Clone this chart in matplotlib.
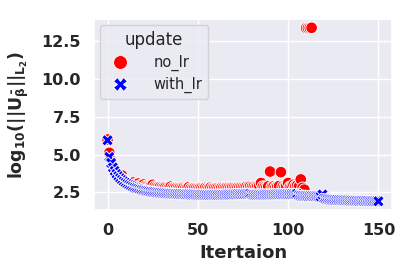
import numpy as np
import pandas as pd
import seaborn as sns
import matplotlib.pyplot as plt

# log10 of the norm per iteration
no_lr = [
    6.00, 5.12, 4.60, 4.25, 3.98, 3.78, 3.62, 3.50, 3.62, 3.35,
    3.25, 3.18, 3.12, 3.06, 3.15, 3.02, 2.98, 3.08, 2.96, 2.93,
    3.02, 2.92, 2.90, 2.88, 2.92, 3.00, 2.88, 2.85, 2.84, 2.86,
    2.83, 2.82, 2.84, 2.81, 2.80, 2.88, 2.80, 2.79, 2.80, 2.78,
    2.79, 2.78, 2.80, 2.77, 2.78, 2.85, 2.77, 2.76, 2.78, 2.77,
    2.76, 2.77, 2.78, 2.76, 2.80, 2.77, 2.76, 2.82, 2.77, 2.78,
    2.78, 2.79, 2.77, 2.80, 2.79, 2.78, 2.81, 2.80, 2.79, 2.82,
    2.81, 2.80, 2.83, 2.82, 2.84, 2.83, 2.85, 2.88, 2.86, 2.90,
    2.87, 2.88, 2.86, 2.92, 2.95, 3.12, 2.88, 2.86, 2.84, 2.90,
    3.88, 2.86, 2.90, 2.84, 2.88, 2.92, 3.84, 2.88, 2.84, 2.92,
    3.12, 2.86, 2.90, 3.00, 2.92, 2.96, 2.88, 3.36, 2.80, 2.68,
    13.38, 13.38, 13.39, 13.40,
]
with_lr = [
    5.95, 4.85, 4.45, 4.15, 3.92, 3.72, 3.57, 3.44, 3.32, 3.22,
    3.13, 3.05, 2.98, 2.92, 2.86, 2.81, 2.77, 2.73, 2.69, 2.66,
    2.63, 2.60, 2.58, 2.56, 2.54, 2.52, 2.51, 2.49, 2.48, 2.47,
    2.46, 2.45, 2.44, 2.43, 2.42, 2.42, 2.41, 2.40, 2.40, 2.39,
    2.39, 2.38, 2.38, 2.37, 2.37, 2.37, 2.36, 2.36, 2.36, 2.35,
    2.35, 2.35, 2.35, 2.34, 2.34, 2.34, 2.34, 2.34, 2.34, 2.34,
    2.34, 2.34, 2.35, 2.35, 2.35, 2.35, 2.36, 2.36, 2.36, 2.37,
    2.37, 2.37, 2.38, 2.38, 2.38, 2.39, 2.39, 2.40, 2.40, 2.41,
    2.36, 2.35, 2.35, 2.35, 2.35, 2.35, 2.35, 2.36, 2.36, 2.36,
    2.36, 2.36, 2.36, 2.37, 2.37, 2.37, 2.37, 2.37, 2.38, 2.38,
    2.38, 2.38, 2.39, 2.39, 2.39, 2.40, 2.30, 2.28, 2.27, 2.26,
    2.26, 2.25, 2.25, 2.25, 2.24, 2.24, 2.24, 2.23, 2.23, 2.36,
    2.08, 2.06, 2.04, 2.03, 2.02, 2.01, 2.00, 2.00, 1.99, 1.99,
    1.98, 1.98, 1.97, 1.97, 1.96, 1.96, 1.95, 1.95, 1.95, 1.94,
    1.94, 1.94, 1.93, 1.93, 1.93, 1.92, 1.92, 1.92, 1.91, 1.91,
    1.91,
]

df = pd.concat([
    pd.DataFrame({"Itertaion": np.arange(len(no_lr)), "norm": no_lr, "update": "no_lr"}),
    pd.DataFrame({"Itertaion": np.arange(len(with_lr)), "norm": with_lr, "update": "with_lr"}),
])

sns.set_theme(style="darkgrid")

fig = plt.figure(figsize=(4.15, 2.77), dpi=100)
ax = fig.add_axes([0.2265, 0.242, 0.718, 0.689])

sns.scatterplot(data=df, x="Itertaion", y="norm", hue="update", style="update",
                palette=["red", "blue"], s=70, ax=ax)

ax.set_xlabel("Itertaion", fontsize=13, fontweight="bold")
ax.set_ylabel(r"$\mathbf{log_{10}(||U_{\bar{\beta}}||_{L_2})}$", fontsize=12.5)
ax.yaxis.set_label_coords(-0.21, 0.5)
ax.set_yticks([2.5, 5.0, 7.5, 10.0, 12.5])
for lbl in ax.get_xticklabels() + ax.get_yticklabels():
    lbl.set_fontweight("bold")
    lbl.set_fontsize(11.5)

ax.legend(title="update", loc="upper left", fontsize=10.5, title_fontsize=12,
          markerscale=1.2, handletextpad=1.3, labelspacing=0.4,
          borderaxespad=0.4)

fig.savefig("out.png", dpi=100)
